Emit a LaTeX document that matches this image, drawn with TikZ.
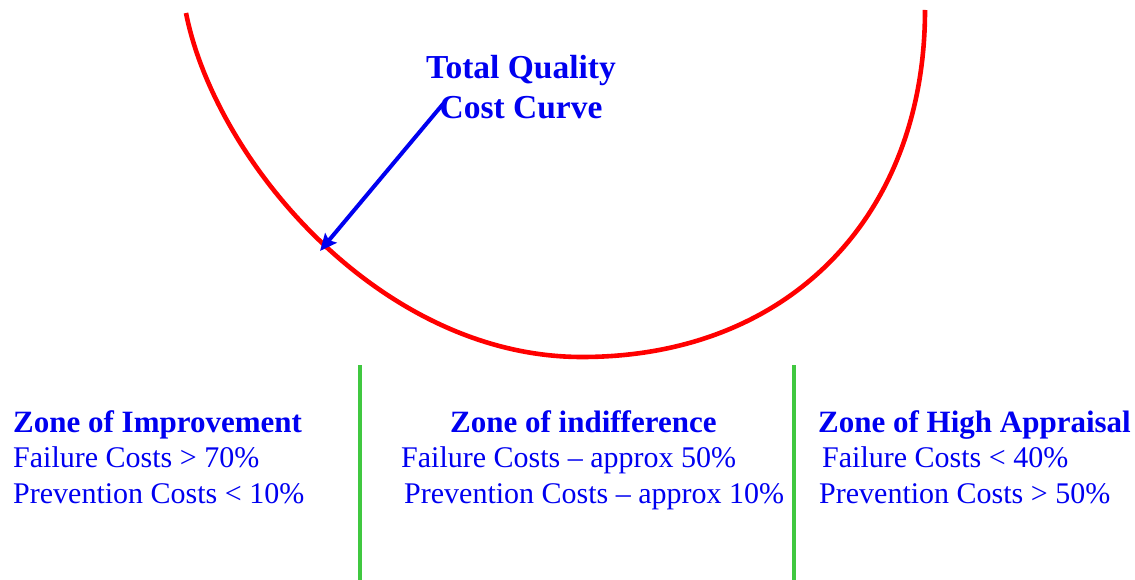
\documentclass[tikz,border=0pt]{standalone}
\usepackage{fontspec}
\setmainfont{Liberation Serif}
\usetikzlibrary{arrows.meta}
\definecolor{zblue}{RGB}{0,0,240}
\definecolor{zred}{RGB}{255,0,0}
\definecolor{zgreen}{RGB}{64,200,64}
\begin{document}
\begin{tikzpicture}[x=1pt,y=-1pt,
  head/.style={font=\fontsize{31}{34}\selectfont\bfseries, text=zblue, inner sep=0pt, anchor=base west},
  body/.style={font=\fontsize{30}{34}\selectfont, text=zblue, inner sep=0pt, anchor=base west},
  ttl/.style={font=\fontsize{33.5}{36}\selectfont\bfseries, text=zblue, inner sep=0pt, anchor=base},
  curve/.style={draw=zred, line width=4.6pt},
  divider/.style={draw=zgreen, line width=4pt},
  pointer/.style={draw=zblue, line width=4pt, -{Stealth[length=17pt,width=15pt,inset=3pt]}}]
\useasboundingbox (0,0) rectangle (1135,580);
% curve
\draw[curve] (186,13) .. controls (215,160) and (380,357) .. (582,357)
  .. controls (790,357) and (925,215) .. (925,10);
% dividers
\coordinate (d1t) at (360,365); \coordinate (d1b) at (360,580);
\coordinate (d2t) at (794,365); \coordinate (d2b) at (794,580);
\draw[divider] (d1t) -- (d1b);
\draw[divider] (d2t) -- (d2b);
% title
\node[ttl] (t1) at (521,79) {Total Quality};
\node[ttl] (t2) at (521,119) {Cost Curve};
\coordinate (src) at (443,104);
\coordinate (tip) at (320,251);
\draw[pointer] (src) -- (tip);
% zones
\node[head] (z1) at (13,432) {Zone of Improvement};
\node[body] (f1) at (13,467) {Failure Costs > 70\%};
\node[body] (p1) at (13,503) {Prevention Costs < 10\%};
\node[head] (z2) at (450,432) {Zone of indifference};
\node[body] (f2) at (401,467) {Failure Costs – approx 50\%};
\node[body] (p2) at (404,503) {Prevention Costs – approx 10\%};
\node[head] (z3) at (818,432) {Zone of High Appraisal};
\node[body] (f3) at (822,467) {Failure Costs < 40\%};
\node[body] (p3) at (819,503) {Prevention Costs > 50\%};
\end{tikzpicture}
\end{document}
